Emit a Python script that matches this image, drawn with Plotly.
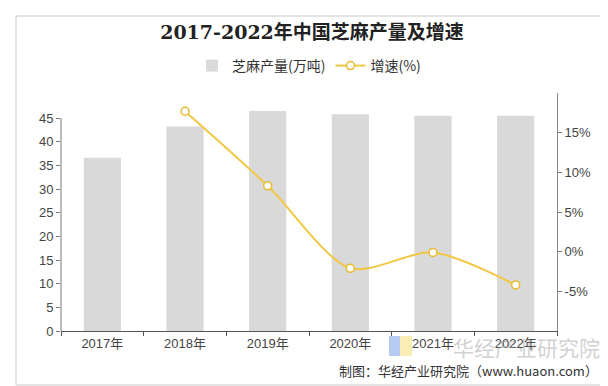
import plotly.graph_objects as go

years = ["2017年", "2018年", "2019年", "2020年", "2021年", "2022年"]
production = [36.6, 43.2, 46.5, 45.8, 45.5, 45.5]
growth_years = ["2018年", "2019年", "2020年", "2021年", "2022年"]
growth = [17.7, 8.3, -2.1, -0.1, -4.2]
left_ticks = [0, 5, 10, 15, 20, 25, 30, 35, 40, 45]
right_ticks = [-5, 0, 5, 10, 15]
right_tick_labels = ["-5%", "0%", "5%", "10%", "15%"]

W, H = 608, 386
L, R, T, B = 53, 549, 85, 323

def px(x):
    return (x - L) / (R - L)

def py(y):
    return (B - y) / (B - T)

fig = go.Figure()
fig.add_trace(go.Bar(
    x=years, y=production, name="芝麻产量(万吨)",
    marker=dict(color="#d9d9d9", line=dict(width=0)),
    yaxis="y",
))
fig.add_trace(go.Scatter(
    x=growth_years, y=growth, name="增速(%)", yaxis="y2",
    mode="lines+markers",
    line=dict(color="#f2c744", width=2, shape="spline", smoothing=0.8),
    marker=dict(symbol="circle", size=8, color="white", line=dict(color="#e8b92c", width=1.5)),
))

font_family = "Liberation Sans, Arial, Noto Sans CJK SC, sans-serif"

fig.update_layout(
    width=W, height=H,
    margin=dict(l=L, r=W - R, t=T, b=H - B),
    paper_bgcolor="white", plot_bgcolor="white",
    bargap=0.55,
    showlegend=True,
    legend=dict(orientation="h", x=0.5, xanchor="center", y=py(58), yanchor="middle",
                font=dict(size=14, color="#333", family="Noto Sans CJK SC"),
                itemwidth=30, traceorder="normal"),
    title=dict(text="<b>2017-2022年中国芝麻产量及增速</b>", x=0.5, xanchor="center",
               y=1 - 24 / H, yanchor="middle",
               font=dict(size=19, color="#222", family="DejaVu Serif, Noto Sans CJK SC")),
    font=dict(family=font_family, size=13, color="#444"),
    xaxis=dict(
        type="category", showline=True, linecolor="#555", linewidth=1,
        ticks="outside", tickson="boundaries", ticklen=4, tickcolor="#555",
        showgrid=False, tickfont=dict(size=13, color="#444"),
    ),
    yaxis=dict(
        range=[0, 50.3], tickvals=left_ticks, showgrid=False, zeroline=False,
        showline=False, ticks="outside", ticklen=4, tickcolor="#777",
        tickfont=dict(size=13, color="#444"),
    ),
    yaxis2=dict(
        range=[-10, 20], overlaying="y", side="right", tickmode="array",
        tickvals=right_ticks, ticktext=right_tick_labels,
        showgrid=False, zeroline=False, showline=True,
        linecolor="#888", linewidth=1, ticks="outside", ticklen=4, tickcolor="#777",
        tickfont=dict(size=13, color="#444"),
    ),
)

shapes = [
    dict(type="rect", xref="paper", yref="paper", x0=px(8), x1=px(599), y0=py(377), y1=py(8),
         line=dict(color="#c8c8c8", width=1), layer="below"),
    dict(type="line", xref="paper", yref="y", x0=0, x1=0, y0=0, y1=45,
         line=dict(color="#777", width=1)),
    dict(type="rect", xref="paper", yref="paper", x0=px(381), x1=px(392), y0=py(348), y1=py(328),
         fillcolor="rgba(120,160,230,0.55)", line=dict(width=0)),
    dict(type="rect", xref="paper", yref="paper", x0=px(392), x1=px(404), y0=py(348), y1=py(328),
         fillcolor="rgba(245,220,120,0.55)", line=dict(width=0)),
]
fig.update_layout(shapes=shapes)

fig.add_annotation(text="华经产业研究院", xref="paper", yref="paper", x=px(594), y=py(339),
                   xanchor="right", yanchor="middle", showarrow=False,
                   font=dict(size=21, color="rgba(150,150,150,0.45)", family="Noto Sans CJK SC"))
fig.add_annotation(text="制图：华经产业研究院（www.huaon.com）", xref="paper", yref="paper",
                   x=px(592), y=py(362), xanchor="right", yanchor="middle", showarrow=False,
                   font=dict(size=13, color="#333", family="Noto Sans CJK SC"))

fig.write_html("out.html")
